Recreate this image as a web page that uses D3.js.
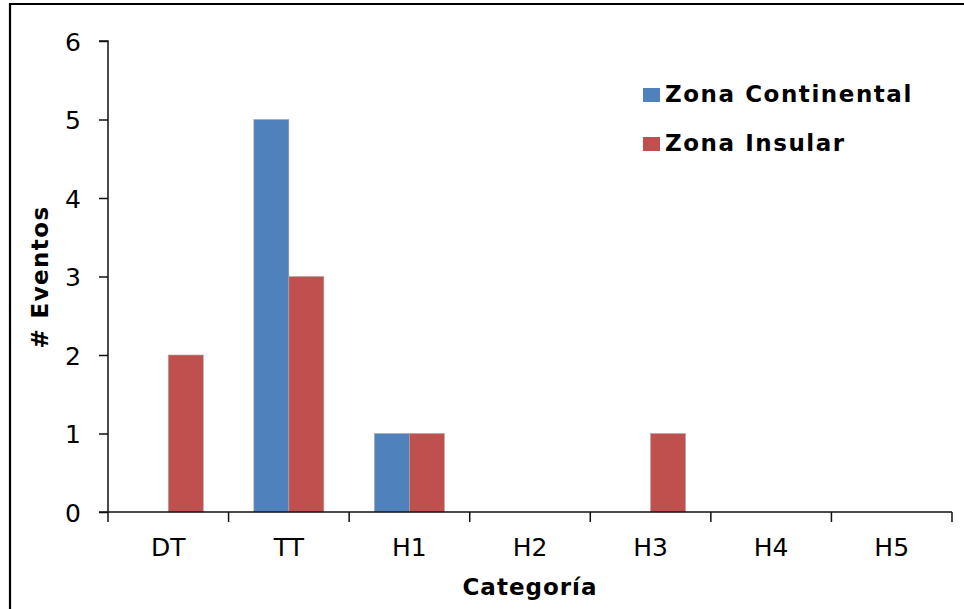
<!DOCTYPE html>
<html>
<head>
<meta charset="utf-8">
<script src="https://cdn.jsdelivr.net/npm/d3@7"></script>
<style>
  html, body { margin: 0; padding: 0; background: #fff; }
  svg { display: block; }
  text { font-family: "DejaVu Sans", Verdana, sans-serif; fill: #000; }
</style>
</head>
<body>
<svg id="chart" width="964" height="609"></svg>
<script>
const categories = ["DT", "TT", "H1", "H2", "H3", "H4", "H5"];
const seriesNames = ["Zona Continental", "Zona Insular"];
const continental = [0, 5, 1, 0, 0, 0, 0];
const insular = [2, 3, 1, 0, 1, 0, 0];
const yTicks = [0, 1, 2, 3, 4, 5, 6];
const colors = ["#4F81BD", "#C0504D"];
const xTitle = "Categoría";
const yTitle = "# Eventos";

const seriesValues = [continental, insular];

const svg = d3.select("#chart");
svg.append("rect").attr("width", 964).attr("height", 609).attr("fill", "#fff");

// frame
svg.append("path")
  .attr("d", "M10,609 L10,4 L964,4")
  .attr("fill", "none").attr("stroke", "#000").attr("stroke-width", 2.2);

const plot = { left: 108, right: 952, top: 41, bottom: 512 };

const x = d3.scaleBand().domain(categories).range([plot.left, plot.right]).padding(0);
const y = d3.scaleLinear().domain([0, 6]).range([plot.bottom, plot.top]);

const barW = 35;
const pad = (x.bandwidth() / barW - seriesNames.length) / 2;
const x1 = d3.scaleBand().domain(seriesNames).range([0, x.bandwidth()]).paddingInner(0).paddingOuter(pad);

// bars
const g = svg.append("g");
seriesNames.forEach((s, si) => {
  g.selectAll(null)
    .data(categories.map((c, i) => ({ c, v: seriesValues[si][i] })).filter(d => d.v > 0))
    .enter().append("rect")
    .attr("x", d => x(d.c) + x1(s))
    .attr("y", d => y(d.v))
    .attr("width", x1.bandwidth())
    .attr("height", d => y(0) - y(d.v))
    .attr("fill", colors[si])
    .attr("stroke", "#a8a8a8")
    .attr("stroke-width", 0.6);
});

// y axis
const yAxis = d3.axisLeft(y).tickValues(yTicks).tickSize(9).tickPadding(18).tickFormat(d3.format("d"));
const ya = svg.append("g").attr("transform", `translate(${plot.left},0)`).call(yAxis);
ya.select(".domain").attr("stroke", "#111").attr("stroke-width", 1.5).attr("d", `M-9,${plot.top}H0V${plot.bottom}H-9`);
ya.selectAll(".tick line").attr("stroke", "#111").attr("stroke-width", 1.5);
ya.selectAll(".tick text").style("font-size", "25px").attr("fill", "#000").attr("dy", "0.36em")
  .style("font-family", '"DejaVu Sans", Verdana, sans-serif');

// x axis
const xa = svg.append("g");
xa.append("line").attr("x1", plot.left).attr("x2", plot.right).attr("y1", y(0)).attr("y2", y(0))
  .attr("stroke", "#111").attr("stroke-width", 1.5);
const boundaries = categories.map(c => x(c)).concat([x(categories[categories.length - 1]) + x.bandwidth()]);
xa.selectAll("line.tk").data(boundaries).enter().append("line").attr("class", "tk")
  .attr("x1", d => d).attr("x2", d => d).attr("y1", y(0)).attr("y2", y(0) + 10)
  .attr("stroke", "#111").attr("stroke-width", 1.5);
xa.selectAll("text").data(categories).enter().append("text")
  .attr("x", d => x(d) + x.bandwidth() / 2).attr("y", y(0) + 44)
  .attr("text-anchor", "middle").style("font-size", "25px").text(d => d);

// titles
const titleStyle = (sel, ls) => sel.style("font-size", "23px").style("font-weight", "bold").style("letter-spacing", ls);
svg.append("text").attr("x", (plot.left + plot.right) / 2).attr("y", 595)
  .attr("text-anchor", "middle").call(titleStyle, "1px").text(xTitle);
svg.append("text").attr("transform", `translate(48,277) rotate(-90)`)
  .attr("text-anchor", "middle").call(titleStyle, "1.4px").text(yTitle);

// legend
const lg = svg.append("g").attr("transform", "translate(643,0)");
seriesNames.forEach((s, i) => {
  const by = 102 + i * 49;
  lg.append("rect").attr("x", 0).attr("y", by - 14).attr("width", 17).attr("height", 14).attr("fill", colors[i]);
  lg.append("text").attr("x", 22).attr("y", by).call(titleStyle, "1.55px").text(s);
});
</script>
</body>
</html>
